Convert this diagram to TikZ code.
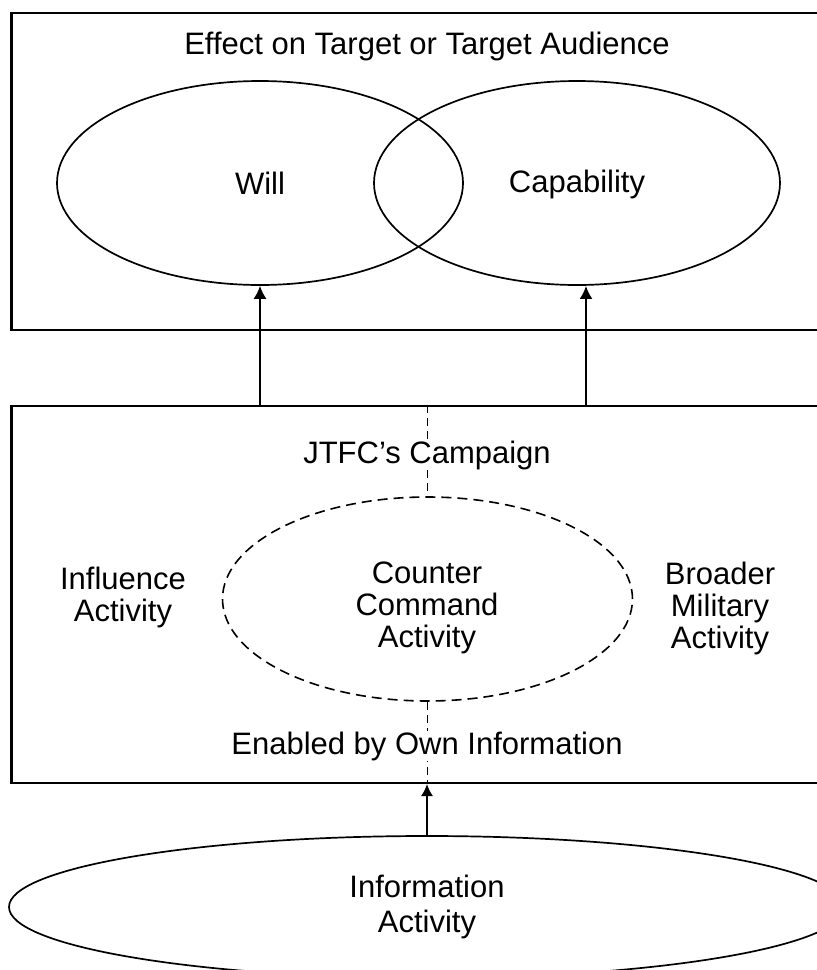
\documentclass[tikz,border=0pt]{standalone}
\usepackage{fontspec}
\setmainfont{Liberation Sans}
\usetikzlibrary{shapes.geometric,arrows.meta,positioning}

\begin{document}
\begin{tikzpicture}[x=1pt, y=-1pt, line width=1.7pt,
                font=\fontsize{31}{32}\selectfont,
                box node/.style={rectangle,draw,line width=2.1pt,inner sep=0pt},
                oval node/.style={ellipse,draw,inner sep=0pt,align=center},
                text node/.style={align=center,fill=white,inner sep=1pt},
                up arrow/.style={-{Latex[length=13pt,width=13pt]}}]

            \useasboundingbox (0,0) rectangle (817,970);
            \clip (0,0) rectangle (817,970);

            % Nodes
            \node[box node, minimum width=820pt, minimum height=317pt] (effect) at (421.5,171.5) {};
            \node[box node, minimum width=820pt, minimum height=377pt] (campaign) at (421.5,594.5) {};
            \node[oval node, minimum width=406pt, minimum height=204pt] (will) at (260,183) {Will};
            \node[oval node, minimum width=406pt, minimum height=204pt] (cap) at (577,183) {};
            \node[oval node, dash pattern=on 10pt off 6pt, line width=1.6pt,
                  minimum width=410pt, minimum height=204pt] (counter) at (427.5,599) {};
            \node[oval node, minimum width=836pt, minimum height=142pt,
                  font=\fontsize{31}{35}\selectfont] (info) at (427,907) {Information\\Activity};

            % Edges
            \draw[up arrow] (will.south |- campaign.north) -- (will.south);
            \draw[up arrow, line width=2.3pt] ([xshift=9pt]cap.south |- campaign.north) -- ([xshift=9pt]cap.south);
            \draw[-{Latex[length=12pt,width=12pt]}, line width=1.5pt] (info.north) -- (info.north |- campaign.south);
            \path[line width=1.5pt, dash pattern=on 8pt off 5pt]
            (counter.north |- campaign.north) edge (counter.north)
            (counter.south) edge (counter.south |- campaign.south);

            % Labels
            \node[text node] (title) at (427,46) {Effect on Target or Target Audience};
            \node[text node] (capname) at (577,184) {Capability};
            \node[text node] (jtfc) at (427,455) {JTFC’s Campaign};
            \node[text node] (ccact) at (427,608) {Counter\\Command\\Activity};
            \node[text node] (influence) at (123,597) {Influence\\Activity};
            \node[text node] (broader) at (720,608) {Broader\\Military\\Activity};
            \node[text node] (enabled) at (427,746) {Enabled by Own Information};

        \end{tikzpicture}
\end{document}
